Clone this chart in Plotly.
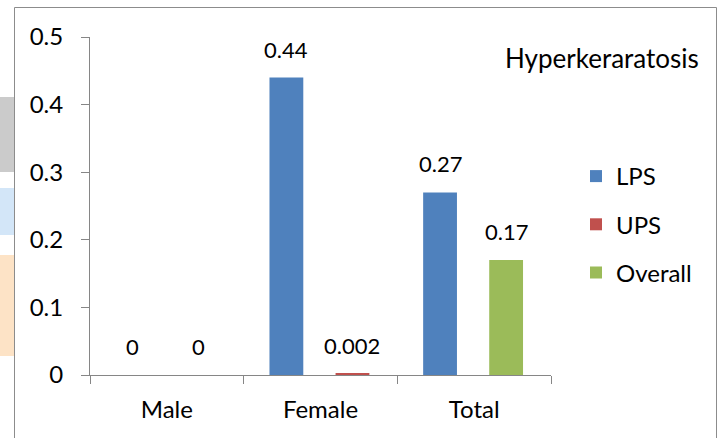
import plotly.graph_objects as go

# Hyperkeratosis prevalence by group
categories = ["Male", "Female", "Total"]

lps_x = ["Male", "Female", "Total"]
lps_vals = [0, 0.44, 0.27]
ups_x = ["Male", "Female"]
ups_vals = [0, 0.002]
overall_x = ["Total"]
overall_vals = [0.17]

y_ticks = [0, 0.1, 0.2, 0.3, 0.4, 0.5]
title_text = "Hyperkeraratosis"

W, H = 721, 438
ML, MR, MT, MB = 90, 170, 37, 63
PW, PH = W - ML - MR, H - MT - MB

FONT = "Lato, Carlito, 'Open Sans', sans-serif"
FS = 22        # value labels
FS_AX = 24     # tick labels and legend
BAR_W = 0.22
SLOT_L = -0.332   # left slot (LPS)
SLOT_R = 0.098    # right slot (UPS / Overall)


def px_x(p):
    return (p - ML) / PW


def px_y(p):
    return (H - MB - p) / PH


fig = go.Figure()

series = [
    ("LPS", lps_x, lps_vals, "#4F81BD", SLOT_L),
    ("UPS", ups_x, ups_vals, "#C0504D", SLOT_R),
    ("Overall", overall_x, overall_vals, "#9BBB59", SLOT_R),
]

annotations = []
for name, xs, vals, color, off in series:
    fig.add_trace(go.Bar(
        name=name, x=xs, y=vals, marker=dict(color=color, line=dict(width=0)),
        offset=off, width=BAR_W, legendgroup=name,
    ))
    for cx, v in zip(xs, vals):
        annotations.append(dict(
            x=categories.index(cx) + off + BAR_W / 2, y=v, xref="x", yref="y",
            text=str(v), showarrow=False, yanchor="bottom", yshift=13,
            font=dict(family=FONT, size=FS, color="#000"),
        ))

annotations.append(dict(
    x=px_x(701), y=px_y(58), xref="paper", yref="paper", text=title_text,
    showarrow=False, xanchor="right", yanchor="middle",
    font=dict(family=FONT, size=26, color="#000"),
))

shapes = [
    # faint colour bands at the left edge
    dict(type="rect", xref="paper", yref="paper", x0=px_x(0), x1=px_x(14),
         y0=px_y(97), y1=px_y(172), fillcolor="#cbcbcb", line=dict(width=0), layer="below"),
    dict(type="rect", xref="paper", yref="paper", x0=px_x(0), x1=px_x(14),
         y0=px_y(188), y1=px_y(235), fillcolor="#d3e6f8", line=dict(width=0), layer="below"),
    dict(type="rect", xref="paper", yref="paper", x0=px_x(0), x1=px_x(14),
         y0=px_y(255), y1=px_y(356), fillcolor="#fde3c6", line=dict(width=0), layer="below"),
    # chart frame
    dict(type="rect", xref="paper", yref="paper", x0=px_x(14.5), x1=px_x(716.5),
         y0=px_y(445), y1=px_y(7.5), line=dict(color="#8c8c8c", width=1),
         fillcolor="rgba(0,0,0,0)"),
]

fig.update_layout(
    width=W, height=H,
    margin=dict(l=ML, r=MR, t=MT, b=MB, pad=0),
    paper_bgcolor="white", plot_bgcolor="white",
    barmode="overlay",
    font=dict(family=FONT, size=FS, color="#000"),
    showlegend=True,
    legend=dict(
        x=px_x(576), y=px_y(154), xanchor="left", yanchor="top",
        font=dict(family=FONT, size=FS_AX, color="#000"),
        tracegroupgap=14, bgcolor="rgba(0,0,0,0)", itemwidth=30,
    ),
    annotations=annotations,
    shapes=shapes,
    xaxis=dict(
        type="category", categoryorder="array", categoryarray=categories,
        range=[-0.5, 2.5], showline=True, linecolor="#868686", linewidth=1,
        ticks="outside", tickson="boundaries", ticklen=8, tickcolor="#868686",
        showgrid=False, zeroline=False, ticklabelstandoff=13,
        tickfont=dict(family=FONT, size=FS_AX, color="#000"),
    ),
    yaxis=dict(
        range=[0, 0.5], tickvals=y_ticks, ticktext=[f"{t:g}" for t in y_ticks],
        showline=True, linecolor="#868686", linewidth=1,
        ticks="outside", ticklen=8, tickcolor="#868686",
        showgrid=False, zeroline=False, ticklabelstandoff=13,
        tickfont=dict(family=FONT, size=FS_AX, color="#000"),
    ),
)

fig.write_html("out.html")
